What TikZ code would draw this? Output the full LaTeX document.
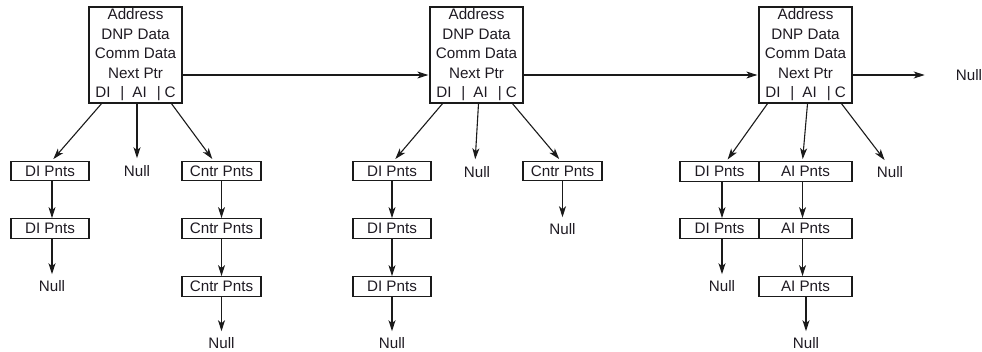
\documentclass[tikz,border=0pt]{standalone}
\usepackage{fontspec}
\setmainfont{Liberation Sans}
\usetikzlibrary{arrows.meta}
\definecolor{ink}{HTML}{1E1A22}
\definecolor{edge}{HTML}{1A1A1A}
\newcommand{\ptrrow}{DI\hspace{10pt}|\hspace{8pt}AI\hspace{10pt}|\hspace{4pt}C}

\begin{document}
\begin{tikzpicture}[x=1pt,y=-1pt,
  every node/.style={text=ink, font=\fontsize{15.2}{19.5}\selectfont},
  record/.style={draw=edge, line width=1.3pt, inner sep=0pt, align=center,
    minimum width=93pt, minimum height=96pt},
  pnts/.style={draw=edge, line width=1.3pt, inner sep=0pt,
    minimum height=19.5pt, minimum width=#1},
  pnts/.default=78pt,
  null/.style={inner sep=3pt},
  arr/.style={draw=edge, line width=1.1pt,
    -{Stealth[length=11pt,width=7pt,inset=3pt]}},
]
\useasboundingbox (0,0) rectangle (982,351);

% ---- record nodes of the main list ----
\node[record] (b1) at (135.5,55) {Address\\DNP Data\\Comm Data\\Next Ptr\\\ptrrow};
\node[record] (b2) at (476.5,55) {Address\\DNP Data\\Comm Data\\Next Ptr\\\ptrrow};
\node[record] (b3) at (805.5,55) {Address\\DNP Data\\Comm Data\\Next Ptr\\\ptrrow};
\node[null] (n3d) at (969,75) {Null};

% ---- first record's point lists ----
\node[pnts] (d11) at (50,171) {DI Pnts};
\node[pnts] (d12) at (50,228.5) {DI Pnts};
\node[null] (n1a) at (52,286) {Null};
\node[null] (n1b) at (137,171) {Null};
\node[pnts=79pt] (c11) at (221.5,171) {Cntr Pnts};
\node[pnts=79pt] (c12) at (221.5,228.5) {Cntr Pnts};
\node[pnts=79pt] (c13) at (221.5,286.5) {Cntr Pnts};
\node[null] (n1c) at (221.5,343) {Null};

% ---- second record's point lists ----
\node[pnts] (d21) at (392,171) {DI Pnts};
\node[pnts] (d22) at (392,228.5) {DI Pnts};
\node[pnts] (d23) at (392,286.5) {DI Pnts};
\node[null] (n2a) at (392,343) {Null};
\node[null] (n2b) at (477,172) {Null};
\node[pnts=79pt] (c21) at (562.5,171) {Cntr Pnts};
\node[null] (n2c) at (562.5,229) {Null};

% ---- third record's point lists ----
\node[pnts=79pt] (d31) at (719.5,171.5) {DI Pnts};
\node[pnts=93pt] (a31) at (805.5,171.5) {AI Pnts};
\node[pnts=79pt] (d32) at (719.5,228.5) {DI Pnts};
\node[pnts=93pt] (a32) at (805.5,228.5) {AI Pnts};
\node[null] (n3a) at (722,286) {Null};
\node[pnts=93pt] (a33) at (805.5,286.5) {AI Pnts};
\node[null] (n3b) at (806,343) {Null};
\node[null] (n3c) at (890,172) {Null};

% ---- next pointers ----
\draw[arr, shorten >=1pt] ([yshift=-20pt]b1.east) -- ([yshift=-20pt]b2.west);
\draw[arr, shorten >=1pt] ([yshift=-20pt]b2.east) -- ([yshift=-20pt]b3.west);
\draw[arr, shorten >=28pt] ([yshift=-20pt]b3.east) -- (n3d.west);

% ---- record 1 branches ----
\draw[arr, shorten >=2pt] ([xshift=-34pt]b1.south) -- ([xshift=2pt]d11.north);
\draw[arr, shorten >=4pt] ([xshift=1.5pt]b1.south) -- (n1b.north);
\draw[arr, shorten >=2pt] ([xshift=36pt]b1.south) -- ([xshift=-8pt]c11.north);
\draw[arr] ([xshift=2pt]d11.south) -- ([xshift=2pt]d12.north);
\draw[arr, shorten >=3pt] ([xshift=2pt]d12.south) -- (n1a.north);
\draw[arr] (c11.south) -- (c12.north);
\draw[arr] (c12.south) -- (c13.north);
\draw[arr, shorten >=3pt] (c13.south) -- (n1c.north);

% ---- record 2 branches ----
\draw[arr, shorten >=2pt] ([xshift=-34pt]b2.south) -- ([xshift=2pt]d21.north);
\draw[arr, shorten >=4pt] ([xshift=2pt]b2.south) -- ([xshift=-2pt]n2b.north);
\draw[arr, shorten >=2pt] ([xshift=36pt]b2.south) -- ([xshift=-2pt]c21.north);
\draw[arr] (d21.south) -- (d22.north);
\draw[arr] (d22.south) -- (d23.north);
\draw[arr, shorten >=3pt] (d23.south) -- (n2a.north);
\draw[arr, shorten >=3pt] (c21.south) -- (n2c.north);

% ---- record 3 branches ----
\draw[arr, shorten >=2pt] ([xshift=-38pt]b3.south) -- ([xshift=7pt]d31.north);
\draw[arr, shorten >=2pt] ([xshift=2pt]b3.south) -- ([xshift=-3pt]a31.north);
\draw[arr, shorten >=4pt] ([xshift=36pt]b3.south) -- ([xshift=-3pt]n3c.north);
\draw[arr] ([xshift=2.5pt]d31.south) -- ([xshift=2.5pt]d32.north);
\draw[arr] ([xshift=-3pt]a31.south) -- ([xshift=-3pt]a32.north);
\draw[arr, shorten >=3pt] ([xshift=2.5pt]d32.south) -- (n3a.north);
\draw[arr] ([xshift=-3pt]a32.south) -- ([xshift=-3pt]a33.north);
\draw[arr, shorten >=3pt] ([xshift=0.5pt]a33.south) -- (n3b.north);
\end{tikzpicture}
\end{document}
